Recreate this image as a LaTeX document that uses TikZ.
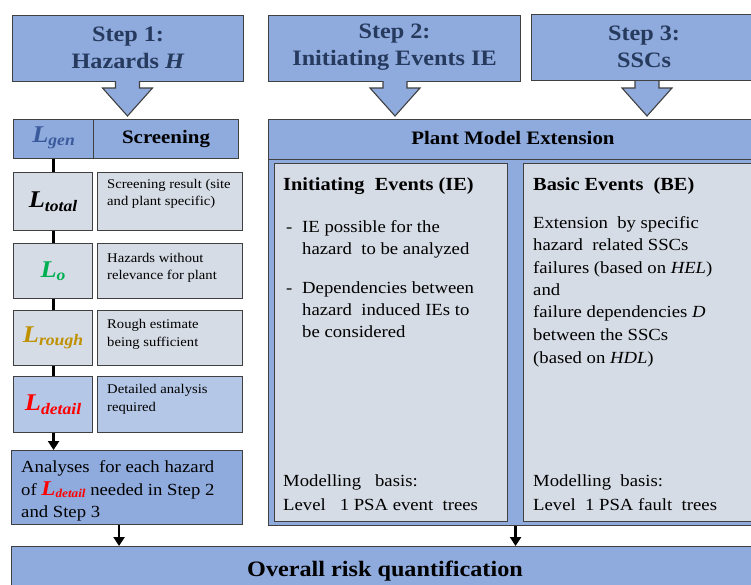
\documentclass[tikz,border=0pt]{standalone}
\usepackage{fontspec}
\setmainfont{Liberation Serif}[FakeStretch=1.1]
\usetikzlibrary{arrows.meta,calc,backgrounds}
\definecolor{stepblue}{HTML}{8FAADC}
\definecolor{lightblue}{HTML}{B4C7E7}
\definecolor{boxgray}{HTML}{D6DCE5}
\definecolor{edge}{HTML}{404040}
\definecolor{navy}{HTML}{263A5E}
\definecolor{lgenc}{HTML}{3A5A9C}
\definecolor{lgreen}{HTML}{00B050}
\definecolor{lgold}{HTML}{BF9000}
\definecolor{lred}{HTML}{FF0000}
\newcommand{\fs}[1]{\fontsize{#1}{#1}\selectfont}
\newcommand{\Lsym}[3]{{\color{#1}\fs{24}\bfseries\itshape L\raisebox{-0.32ex}{\fs{#2}#3}}}
\begin{document}
\begin{tikzpicture}[x=1pt,y=-1pt,
  panel/.style={draw=edge,line width=1.1pt,inner sep=0pt,anchor=north west},
  bluebox/.style={panel,fill=stepblue},
  graybox/.style={panel,fill=boxgray},
  steptext/.style={font=\fontsize{22}{27}\selectfont\bfseries,text=navy,align=center,inner sep=0pt},
  small/.style={font=\fs{13.3},anchor=base west,inner sep=0pt},
  body/.style={font=\fs{17},anchor=base west,inner sep=0pt},
  bodybold/.style={font=\fs{18.5}\bfseries,anchor=base west,inner sep=0pt},
  blockarrow/.style={draw=edge,line width=1.1pt,fill=stepblue,line join=miter},
  conn/.style={line width=2.6pt,black,-{Triangle[width=11pt,length=9pt]}}]
\useasboundingbox (0,0) rectangle (751,584);

% ---------- Step boxes ----------
\node[bluebox,minimum width=231pt,minimum height=66pt] (s1) at (12,15) {};
\node[steptext] (s1t) at ([yshift=1pt]s1.center) {Step 1:\\Hazards \textit{H}};
\node[bluebox,minimum width=252pt,minimum height=66pt] (s2) at (268,15) {};
\node[steptext] (s2t) at ([yshift=1pt]s2.center) {Step 2:\\Initiating Events IE};
\node[bluebox,minimum width=235pt,minimum height=66pt] (s3) at (531,14) {};
\node[steptext] (s3t) at ([xshift=-5pt,yshift=1pt]s3.center) {Step 3:\\SSCs};

% block arrows
\foreach \cx in {127.5, 395, 647}{
  \draw[blockarrow] ({\cx-12},81) -- ++(0,7) -- ++(-13,0) -- ++(25,28)
    -- ++(25,-28) -- ++(-13,0) -- ++(0,-7);
}

% ---------- Left column ----------
\node[bluebox,minimum width=80pt,minimum height=39pt] (lgen) at (13,119) {};
\node[bluebox,minimum width=145pt,minimum height=39pt] (scr) at (93,119) {};
\node[inner sep=0pt] (lgent) at ([yshift=1pt]lgen.center) {\Lsym{lgenc}{16}{gen}};
\node[inner sep=0pt,font=\fs{19}\bfseries] (scrt) at (scr.center) {Screening};

\node[graybox,minimum width=79pt,minimum height=58pt] (ltot) at (13,172) {};
\node[graybox,minimum width=145pt,minimum height=58pt] (ltotd) at (97,172) {};
\node[inner sep=0pt] (ltott) at (ltot.center) {\Lsym{black}{16}{total}};
\node[small] (ltotd1) at (107,188) {Screening result (site};
\node[small] (ltotd2) at (107,205) {and plant specific)};

\node[graybox,minimum width=79pt,minimum height=55pt] (lo) at (13,243) {};
\node[graybox,minimum width=145pt,minimum height=55pt] (lod) at (97,243) {};
\node[inner sep=0pt] (lot) at (lo.center) {\Lsym{lgreen}{16}{o}};
\node[small] (lod1) at (107,262) {Hazards without};
\node[small] (lod2) at (107,279) {relevance for plant};

\node[graybox,minimum width=79pt,minimum height=55pt] (lr) at (13,310) {};
\node[graybox,minimum width=145pt,minimum height=55pt] (lrd) at (97,310) {};
\node[inner sep=0pt] (lrt) at (lr.center) {\Lsym{lgold}{16}{rough}};
\node[small] (lrd1) at (107,328) {Rough estimate};
\node[small] (lrd2) at (107,346) {being sufficient};

\node[panel,fill=lightblue,minimum width=79pt,minimum height=56pt] (ld) at (13,376) {};
\node[panel,fill=lightblue,minimum width=145pt,minimum height=56pt] (ldd) at (97,376) {};
\node[inner sep=0pt] (ldt) at (ld.center) {\Lsym{lred}{16}{detail}};
\node[small] (ldd1) at (107,393) {Detailed analysis};
\node[small] (ldd2) at (107,411) {required};

\node[bluebox,minimum width=231pt,minimum height=74pt] (ana) at (11,450) {};
\begin{pgfonlayer}{background}
\draw[conn] (lgen.south) -- (lgen.south |- ana.north);
\end{pgfonlayer}
\node[body] (anat1) at (21,472) {Analyses \ for each hazard};
\node[body] (anat2) at (21,495) {of {\color{lred}\fs{21}\bfseries\itshape L\raisebox{-0.3ex}{\fs{12}detail}} needed in Step 2};
\node[body] (anat3) at (21,517) {and Step 3};

% ---------- Plant model extension ----------
\node[bluebox,minimum width=500pt,minimum height=366pt] (frame) at (268,159) {};
\node[bluebox,minimum width=500pt,minimum height=40pt] (pme) at (268,119) {};
\node[inner sep=0pt,font=\fs{19}\bfseries,anchor=base] (pmet) at (513,144) {Plant Model Extension};

\node[graybox,minimum width=233pt,minimum height=358pt] (ie) at (274,163) {};
\node[graybox,minimum width=240pt,minimum height=358pt] (be) at (523,163) {};

\node[bodybold] (iet) at (283,190) {Initiating \ Events (IE)};
\node[body] (ieb1) at (286,232) {-};
\node[body] (ie1) at (302,232) {IE possible for the};
\node[body] (ie2) at (302,254) {hazard \ to be analyzed};
\node[body] (ieb2) at (286,293) {-};
\node[body] (ie3) at (302,293) {Dependencies between};
\node[body] (ie4) at (302,315) {hazard \ induced IEs to};
\node[body] (ie5) at (302,337) {be considered};
\node[body] (ie6) at (283,486) {Modelling \ \ basis:};
\node[body] (ie7) at (283,510) {Level \ \ 1 PSA event \ trees};

\node[bodybold] (bet) at (533,190) {Basic Events \ (BE)};
\node[body] (be1) at (533,228) {Extension \ by specific};
\node[body] (be2) at (533,250) {hazard \ related SSCs};
\node[body] (be3) at (533,273) {failures (based on \textit{HEL})};
\node[body] (be4) at (533,295) {and};
\node[body] (be5) at (533,317) {failure dependencies \textit{D}};
\node[body] (be6) at (533,340) {between the SSCs};
\node[body] (be7) at (533,363) {(based on \textit{HDL})};
\node[body] (be8) at (533,486) {Modelling \ basis:};
\node[body] (be9) at (533,510) {Level \ 1 PSA fault \ trees};

% ---------- Overall ----------
\node[bluebox,minimum width=760pt,minimum height=60pt] (ov) at (11,546) {};
\node[inner sep=0pt,font=\fs{22}\bfseries,anchor=base] (ovt) at (385,576) {Overall risk quantification};

\coordinate (a1) at ([xshift=-8pt]ana.south);
\draw[conn] (a1) -- (a1 |- ov.north);
\coordinate (a2) at ($(ie.south east)!0.5!(be.south west)$);
\draw[conn] (a2 |- frame.south) -- (a2 |- ov.north);
\end{tikzpicture}
\end{document}
